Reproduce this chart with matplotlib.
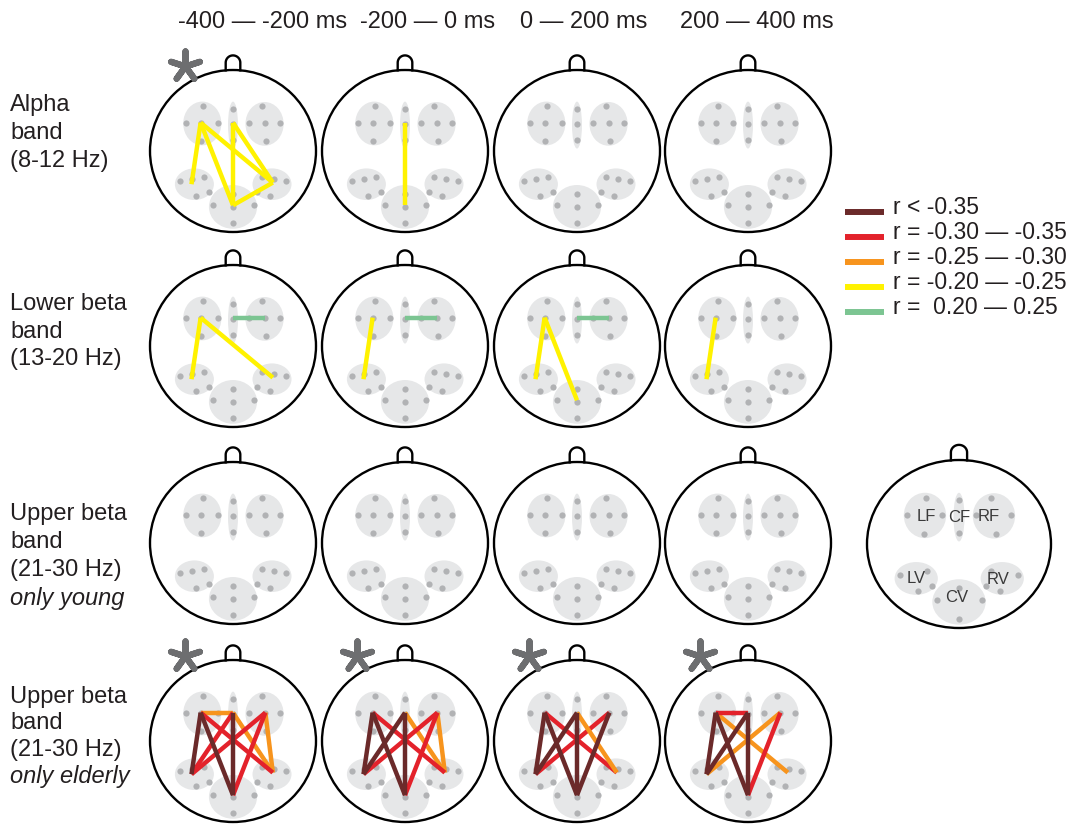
import numpy as np
import matplotlib
matplotlib.use("Agg")
import matplotlib.pyplot as plt
from matplotlib.patches import Ellipse, Circle

plt.rcParams['font.family'] = ['Liberation Sans', 'DejaVu Sans']

# ---------------------------------------------------------------- data
windows = ["-400 \u2014 -200 ms", "-200 \u2014 0 ms", "0 \u2014 200 ms", "200 \u2014 400 ms"]

band_lines = [
    ["Alpha", "band", "(8-12 Hz)"],
    ["Lower beta", "band", "(13-20 Hz)"],
    ["Upper beta", "band", "(21-30 Hz)", "only young"],
    ["Upper beta", "band", "(21-30 Hz)", "only elderly"],
]

legend_labels = ["r < -0.35", "r = -0.30 \u2014 -0.35", "r = -0.25 \u2014 -0.30",
                 "r = -0.20 \u2014 -0.25", "r =  0.20 \u2014 0.25"]
level_colors = ["#6b2a2a", "#e3222b", "#f7941d", "#fff200", "#7cc592"]

# correlation links per time window: (region, region, level index)
alpha_links = [
    [("LF", "LV", 3), ("LF", "CV", 3), ("LF", "RV", 3),
     ("CF", "CV", 3), ("CF", "RV", 3), ("CV", "RV", 3)],
    [("CF", "CV", 3)],
    [],
    [],
]
lower_beta_links = [
    [("LF", "LV", 3), ("LF", "RV", 3), ("CF", "RF", 4)],
    [("LF", "LV", 3), ("CF", "RF", 4)],
    [("LF", "LV", 3), ("LF", "CV", 3), ("CF", "RF", 4)],
    [("LF", "LV", 3)],
]
upper_beta_young_links = [[], [], [], []]
upper_beta_elderly_links = [
    [("LF", "CF", 2), ("CF", "RV", 2), ("RF", "RV", 2),
     ("LF", "RV", 1), ("CF", "LV", 1), ("RF", "LV", 1), ("RF", "CV", 1),
     ("LF", "LV", 0), ("LF", "CV", 0), ("CF", "CV", 0)],
    [("CF", "RV", 2), ("RF", "RV", 2),
     ("LF", "RV", 1), ("RF", "LV", 1), ("RF", "CV", 1),
     ("LF", "LV", 0), ("LF", "CV", 0), ("CF", "LV", 0), ("CF", "CV", 0)],
    [("LF", "RV", 1), ("RF", "LV", 1), ("CF", "RV", 2),
     ("LF", "LV", 0), ("LF", "CV", 0), ("CF", "LV", 0), ("CF", "CV", 0), ("RF", "CV", 0)],
    [("LF", "RV", 2), ("RF", "LV", 2),
     ("LF", "CF", 1), ("RF", "CV", 1),
     ("LF", "LV", 0), ("LF", "CV", 0), ("CF", "LV", 0), ("CF", "CV", 0)],
]
all_links = [alpha_links, lower_beta_links, upper_beta_young_links, upper_beta_elderly_links]

# significant panels get an asterisk
significant = [
    [True, False, False, False],
    [False, False, False, False],
    [False, False, False, False],
    [True, True, True, True],
]

# ---------------------------------------------------------------- head layout (unit head)
region_names = ["LF", "CF", "RF", "LV", "CV", "RV"]
region_xy = [(-0.37, 0.34), (0.0, 0.32), (0.38, 0.335), (-0.465, -0.41), (0.0, -0.69), (0.47, -0.41)]
region_wh = [(0.46, 0.54), (0.12, 0.58), (0.46, 0.54), (0.47, 0.39), (0.58, 0.54), (0.47, 0.39)]
node_xy = {"LF": (-0.39, 0.35), "CF": (0.0, 0.35), "RF": (0.39, 0.35),
           "LV": (-0.50, -0.41), "CV": (0.0, -0.67), "RV": (0.48, -0.39)}

# electrodes; the flag marks the ones hidden by labels on the key head
electrodes = [
    (-0.36, 0.55, 0), (-0.57, 0.34, 0), (-0.38, 0.34, 1), (-0.18, 0.34, 0), (-0.38, 0.12, 0),
    (0.0, 0.52, 0), (0.0, 0.335, 1), (0.0, 0.13, 0),
    (0.35, 0.55, 0), (0.19, 0.34, 0), (0.39, 0.34, 1), (0.57, 0.34, 0), (0.40, 0.12, 0),
    (-0.64, -0.37, 0), (-0.49, -0.34, 1), (-0.35, -0.32, 0), (-0.45, -0.555, 0), (-0.29, -0.50, 0),
    (0.64, -0.37, 0), (0.49, -0.34, 1), (0.35, -0.32, 0), (0.45, -0.555, 0), (0.29, -0.50, 0),
    (0.0, -0.525, 0), (-0.24, -0.67, 0), (0.0, -0.69, 1), (0.25, -0.67, 0), (0.0, -0.89, 0),
]

W, H = 1075, 825
fig = plt.figure(figsize=(W / 100, H / 100), dpi=100)
fig.patch.set_facecolor("white")

PAD = 1.3


def head_axes(cx, cy, rx, ry):
    ax = fig.add_axes([(cx - PAD * rx) / W, 1 - (cy + PAD * ry) / H,
                       2 * PAD * rx / W, 2 * PAD * ry / H])
    ax.set_xlim(-PAD, PAD)
    ax.set_ylim(-PAD, PAD)
    ax.axis("off")
    ax.patch.set_alpha(0)
    return ax


def draw_head(ax, links=(), star=False, key=False):
    for (x, y), (w, h) in zip(region_xy, region_wh):
        ax.add_patch(Ellipse((x, y), w, h, facecolor="#e6e7e8", edgecolor="none", zorder=1))
    ex = [e[0] for e in electrodes if not (key and e[2])]
    ey = [e[1] for e in electrodes if not (key and e[2])]
    ax.scatter(ex, ey, s=20, color="#b1b2b4", linewidths=0, zorder=2)
    for a, b, lvl in links:
        (x1, y1), (x2, y2) = node_xy[a], node_xy[b]
        ax.plot([x1, x2], [y1, y2], color=level_colors[lvl], lw=3.2,
                solid_capstyle="butt", zorder=4)
    ax.add_patch(Circle((0, 0), 1, fill=False, edgecolor="black", lw=1.7, zorder=5))
    t = np.linspace(0, np.pi, 40)
    nx = np.concatenate([[0.088, 0.088], 0.088 * np.cos(t), [-0.088, -0.088]])
    ny = np.concatenate([[0.996, 1.09], 1.09 + 0.09 * np.sin(t), [1.09, 0.996]])
    ax.plot(nx, ny, color="black", lw=1.7, zorder=5)
    if star:
        ax.scatter([-0.58], [1.05], marker=(5, 2, 0), s=470, linewidths=4.5,
                   color="#6d6e70", zorder=6)


head_cx = [233, 405, 577, 748]
head_cy = [151, 346, 543, 741]
for r, cy in enumerate(head_cy):
    for c, cx in enumerate(head_cx):
        ax = head_axes(cx, cy, 83, 81)
        draw_head(ax, all_links[r][c], significant[r][c])

# key head with region names
kax = head_axes(959, 544, 92, 84)
draw_head(kax, key=True)
for name in region_names:
    pass
key_label_xy = {"LF": (-0.36, 0.33), "CF": (0.0, 0.32), "RF": (0.32, 0.33),
                "LV": (-0.46, -0.41), "CV": (-0.02, -0.64), "RV": (0.42, -0.42)}
for name in region_names:
    x, y = key_label_xy[name]
    kax.text(x, y, name, ha="center", va="center", fontsize=12, color="#3a3a3a", zorder=7)

# ---------------------------------------------------------------- text and legend
tax = fig.add_axes([0, 0, 1, 1])
tax.set_xlim(0, W)
tax.set_ylim(H, 0)
tax.axis("off")
tax.patch.set_alpha(0)

title_cx = [263, 428, 584, 757]
for x, txt in zip(title_cx, windows):
    tax.text(x, 22, txt, ha="center", va="center", fontsize=17, color="#231f20")

label_y = [
    [105, 133, 161],
    [304, 332, 359],
    [514, 542, 570, 598],
    [697, 723, 750, 777],
]
for lines, ys in zip(band_lines, label_y):
    for i, (txt, y) in enumerate(zip(lines, ys)):
        style = "italic" if txt.startswith("only") else "normal"
        tax.text(10, y, txt, ha="left", va="center", fontsize=17,
                 style=style, color="#231f20")

for i, (lab, col) in enumerate(zip(legend_labels, level_colors)):
    y = 211.5 + 25 * i
    tax.plot([845, 884], [y, y], color=col, lw=4.3, solid_capstyle="butt")
    tax.text(893, y - 4, lab, ha="left", va="center", fontsize=16.5, color="#231f20")

fig.savefig("out.png", dpi=100, facecolor="white")
